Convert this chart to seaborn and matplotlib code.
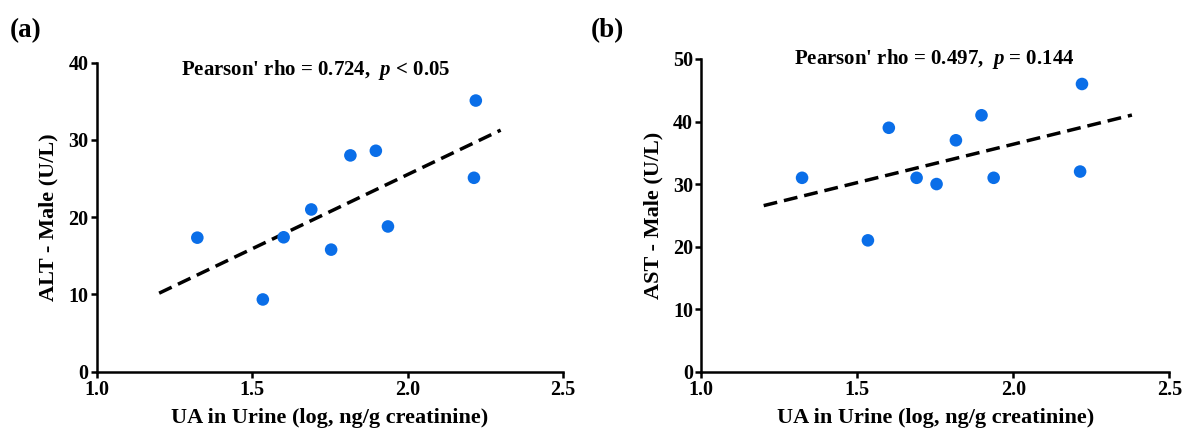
import matplotlib
matplotlib.use('Agg')
import matplotlib.pyplot as plt
import seaborn as sns
import pandas as pd
import numpy as np

# values
ua_log = [1.323, 1.534, 1.601, 1.690, 1.754, 1.816, 1.898, 1.937, 2.220, 2.214]
alt_male = [17.35, 9.35, 17.4, 21.0, 15.8, 28.0, 28.6, 18.8, 35.1, 25.1]
ast_male = [31.0, 21.0, 39.0, 31.0, 30.0, 37.0, 41.0, 31.0, 46.0, 32.0]

alt_fit_range = [1.2, 2.3]
ast_fit_range = [1.2, 2.38]

alt_note = r"Pearson' rho = 0.724,  $p$ < 0.05"
ast_note = r"Pearson' rho = 0.497,  $p$ = 0.144"

x_ticks = [1.0, 1.5, 2.0, 2.5]
alt_ticks = [0, 10, 20, 30, 40]
ast_ticks = [0, 10, 20, 30, 40, 50]

sns.set_theme(style='ticks')
plt.rcParams['font.family'] = ['Liberation Serif', 'DejaVu Serif']
plt.rcParams['font.weight'] = 'bold'
plt.rcParams['mathtext.fontset'] = 'custom'
plt.rcParams['mathtext.rm'] = 'Liberation Serif:bold'
plt.rcParams['mathtext.it'] = 'Liberation Serif:italic:bold'
plt.rcParams['mathtext.bf'] = 'Liberation Serif:bold'
for key in ['text.color', 'axes.labelcolor', 'xtick.color', 'ytick.color',
            'axes.edgecolor']:
    plt.rcParams[key] = 'black'

dot_color = '#0A6EE8'

df = pd.DataFrame({'ua': ua_log, 'alt': alt_male, 'ast': ast_male})


def panel(ax, col, fit_range, yticks, ylabel, note, note_xy, tag, tag_x):
    sns.scatterplot(data=df, x='ua', y=col, ax=ax, color=dot_color,
                    s=82, edgecolor='none', zorder=3)
    slope, icpt = np.polyfit(df['ua'], df[col], 1)
    fit = pd.DataFrame({'ua': fit_range})
    fit['y'] = slope * fit['ua'] + icpt
    sns.lineplot(data=fit, x='ua', y='y', ax=ax, color='black',
                 linewidth=2.5, zorder=2)
    ax.lines[-1].set_dashes((4, 2))

    ax.set_xlim(1.0, 2.5)
    ax.set_ylim(yticks[0], yticks[-1])
    ax.set_xticks(x_ticks)
    ax.set_xticklabels([f'{t:.1f}' for t in x_ticks])
    ax.set_yticks(yticks)
    ax.set_xlabel('UA in Urine (log, ng/g creatinine)', fontsize=16,
                  fontweight='bold', labelpad=6)
    ax.set_ylabel(ylabel, fontsize=16, fontweight='bold', labelpad=7)
    ax.tick_params(labelsize=14.5, width=1.8, length=4, direction='out',
                   pad=2, colors='black')
    for lab in ax.get_xticklabels() + ax.get_yticklabels():
        lab.set_fontweight('bold')
    sns.despine(ax=ax)
    for s in ['left', 'bottom']:
        ax.spines[s].set_linewidth(1.8)
        ax.spines[s].set_color('black')
    ax.text(note_xy[0], note_xy[1], note, transform=ax.transAxes,
            ha='center', va='center', fontsize=15, fontweight='bold')
    ax.figure.text(tag_x, 0.93, tag, fontsize=19.5, fontweight='bold',
                   ha='left', va='center')


fig = plt.figure(figsize=(11.82, 4.33), dpi=100)
ax1 = fig.add_axes([0.0821, 0.1416, 0.394, 0.7136])
ax2 = fig.add_axes([0.5933, 0.1416, 0.396, 0.7222])

panel(ax1, 'alt', alt_fit_range, alt_ticks, 'ALT - Male (U/L)',
      alt_note, (0.47, 0.976), '(a)', 0.008)
panel(ax2, 'ast', ast_fit_range, ast_ticks, 'AST - Male (U/L)',
      ast_note, (0.497, 1.0), '(b)', 0.5)

fig.savefig('out.png', dpi=100, facecolor='white')
